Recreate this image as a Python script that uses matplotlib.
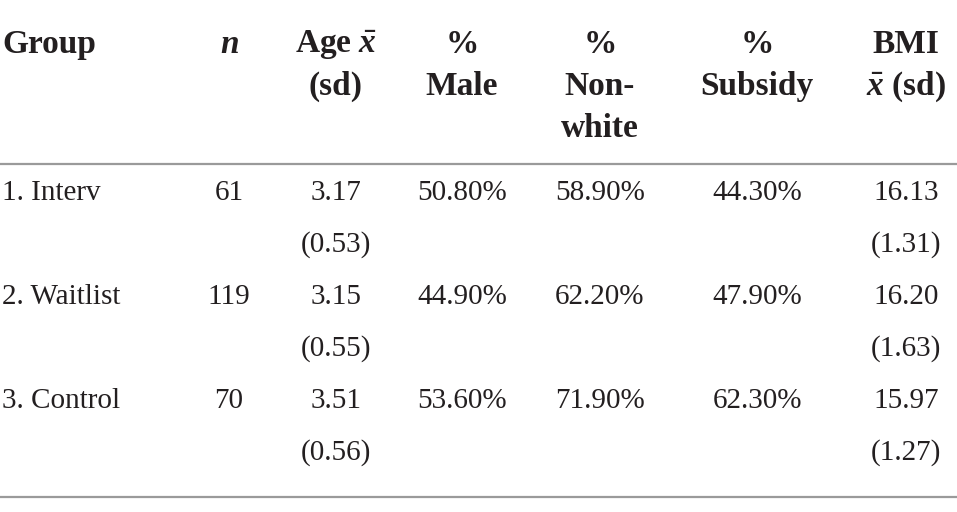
import matplotlib
matplotlib.use("Agg")
import matplotlib.pyplot as plt

plt.rcParams['font.family'] = ['Liberation Serif', 'DejaVu Serif']
plt.rcParams['mathtext.fontset'] = 'custom'
plt.rcParams['mathtext.rm'] = 'Liberation Serif:bold'
plt.rcParams['mathtext.it'] = 'Liberation Serif:italic:bold'
plt.rcParams['mathtext.bf'] = 'Liberation Serif:bold'

# ---- data ----
headers = [
    ["Group"],
    ["$n$"],
    ["Age $\\bar{x}$", "(sd)"],
    ["%", "Male"],
    ["%", "Non-", "white"],
    ["%", "Subsidy"],
    ["BMI", "$\\bar{x}$ (sd)"],
]
groups = ["1. Interv", "2. Waitlist", "3. Control"]
n_vals = ["61", "119", "70"]
age_mean = ["3.17", "3.15", "3.51"]
age_sd = ["(0.53)", "(0.55)", "(0.56)"]
pct_male = ["50.80%", "44.90%", "53.60%"]
pct_nonwhite = ["58.90%", "62.20%", "71.90%"]
pct_subsidy = ["44.30%", "47.90%", "62.30%"]
bmi_mean = ["16.13", "16.20", "15.97"]
bmi_sd = ["(1.31)", "(1.63)", "(1.27)"]

# ---- layout (pixel space) ----
W, H = 957, 512
col_x = [2, 229, 336, 462, 600, 757, 906]
col_ha = ['left', 'center', 'center', 'center', 'center', 'center', 'center']
head_base = [53, 95, 137]
row_base = [200, 304, 408]
sub_off = 52
line_y = [164, 497]
txt = '#231f20'

fig = plt.figure(figsize=(W / 100, H / 100), dpi=100)
ax = fig.add_axes([0, 0, 1, 1])
ax.set_xlim(0, W)
ax.set_ylim(H, 0)
ax.axis('off')

for ci, lines in enumerate(headers):
    for li, s in enumerate(lines):
        ax.text(col_x[ci], head_base[li], s, ha=col_ha[ci], va='baseline',
                fontsize=24, fontweight='bold', color=txt)

for ly in line_y:
    ax.plot([0, W], [ly, ly], color='#9a9a9a', lw=1.6, solid_capstyle='butt')

cols_main = [groups, n_vals, age_mean, pct_male, pct_nonwhite, pct_subsidy, bmi_mean]
for ri in range(len(groups)):
    yb = row_base[ri]
    for ci, col in enumerate(cols_main):
        ax.text(col_x[ci], yb, col[ri], ha=col_ha[ci], va='baseline',
                fontsize=21, color=txt)
    ax.text(col_x[2], yb + sub_off, age_sd[ri], ha='center', va='baseline',
            fontsize=21, color=txt)
    ax.text(col_x[6], yb + sub_off, bmi_sd[ri], ha='center', va='baseline',
            fontsize=21, color=txt)

fig.savefig('out.png', dpi=100, facecolor='white')
